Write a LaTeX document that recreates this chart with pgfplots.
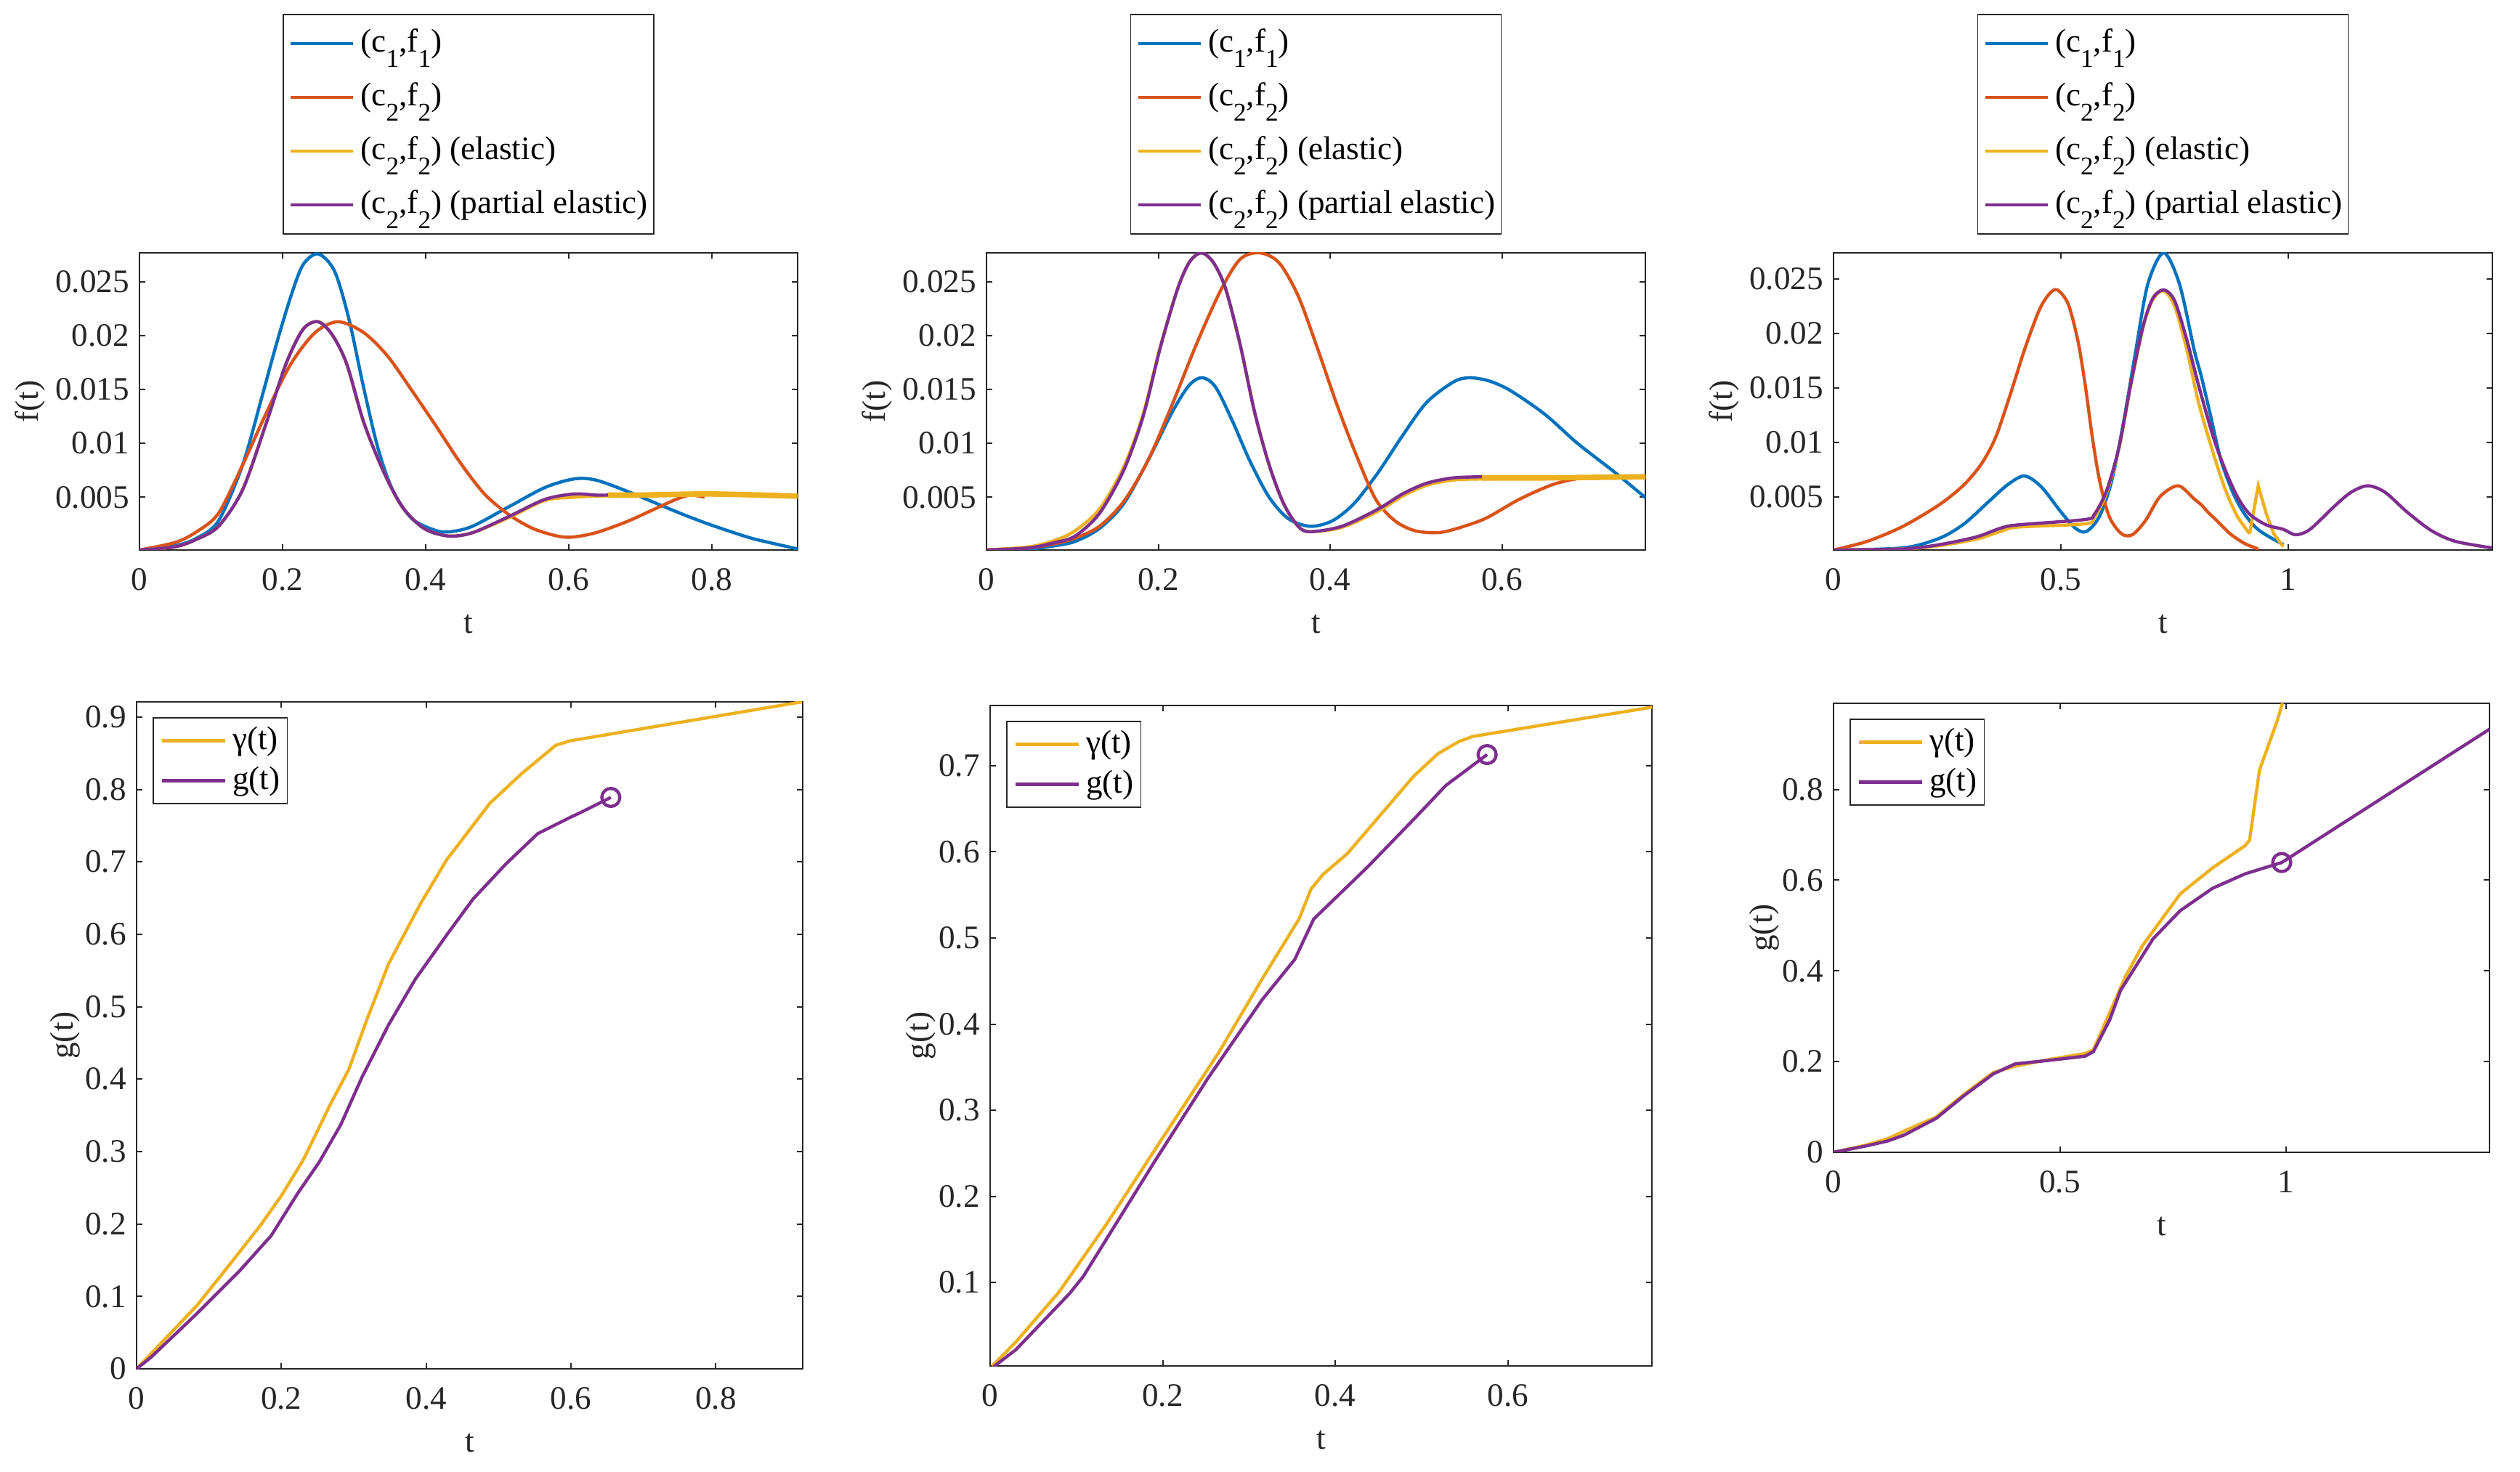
\documentclass[border=0pt]{standalone}
\usepackage{fontspec}
\setmainfont{Liberation Serif}
\usepackage{pgfplots}
\pgfplotsset{compat=1.18}
\definecolor{mblue}{rgb}{0,0.447,0.741}
\definecolor{morange}{rgb}{0.85,0.325,0.098}
\definecolor{myellow}{rgb}{0.929,0.694,0.125}
\definecolor{mpurple}{rgb}{0.494,0.184,0.556}
\definecolor{axgray}{rgb}{0.15,0.15,0.15}
\newcommand{\fs}{\fontsize{11.3}{13.5}\selectfont}
\newcommand{\sub}[1]{\raisebox{-5.3pt}{\fontsize{8.8}{9}\selectfont #1}}
\pgfplotsset{
  base/.style={
    scale only axis,
    anchor=south west,
    axis line style={draw=axgray, line width=0.5pt},
    every tick/.style={draw=axgray, line width=0.5pt},
    tick align=inside,
    major tick length=2pt,
    tick label style={font=\fs, text=axgray},
    label style={font=\fs, text=axgray},
    /pgf/number format/assume math mode=true,
    /pgf/number format/fixed,
    /pgf/number format/precision=3,
    scaled ticks=false,
    xlabel={t},
    xlabel style={at={(axis description cs:0.5,0)}, anchor=center, yshift=-25.5pt},
    xticklabel style={yshift=-2.8pt},
    every axis plot/.append style={line width=1.1pt},
  },
  top/.style={
    base, height=102.25pt, ymin=0.0001,
    ytick={0.005,0.01,0.015,0.02,0.025},
    ylabel={f(t)},
    ylabel style={at={(axis description cs:-0.166,0.5)}, anchor=center},
    legend style={at={(0.5,1)}, anchor=south, yshift=6.25pt, draw=axgray, fill=white,
      font=\fs, text=black, inner xsep=2pt, inner ysep=0.75pt, row sep=0pt,
      nodes={inner xsep=0pt, inner ysep=0pt, text height=12pt, text depth=6.5pt},
      /tikz/every odd column/.append style={column sep=2pt}},
    legend cell align=left,
    legend image code/.code={\draw[##1,line width=1.1pt] (0pt,0pt) -- (21.5pt,0pt);},
  },
  bot/.style={
    base, ymin=0,
    ylabel={g(t)},
    legend style={at={(0,1)}, anchor=north west, xshift=5.5pt, yshift=-5.25pt, draw=axgray, fill=white,
      font=\fs, text=black, inner xsep=2.5pt, inner ysep=1.1pt, row sep=0pt,
      nodes={inner xsep=0pt, inner ysep=0pt, text height=9.9pt, text depth=3.8pt},
      /tikz/every odd column/.append style={column sep=2pt}},
    legend cell align=left,
    legend image code/.code={\draw[##1,line width=1.1pt] (0pt,0pt) -- (21.75pt,0pt);},
  },
}
\newcommand{\leg}{\addlegendentry{(c\sub{1},f\sub{1})}
  \addlegendentry{(c\sub{2},f\sub{2})}
  \addlegendentry{(c\sub{2},f\sub{2}) (elastic)}
  \addlegendentry{(c\sub{2},f\sub{2}) (partial elastic)}}
\begin{document}
\begin{tikzpicture}
\useasboundingbox (0,0) rectangle (867.25pt,506.25pt);
% ---------------- top left
\begin{axis}[top, at={(48pt,317pt)}, width=226.5pt, xmin=0, xmax=0.92, ymax=0.0277,
  xtick={0,0.2,0.4,0.6,0.8}]
\addplot[mblue, smooth, tension=0.5] coordinates {(0,0.0001)(0.05,0.0005)(0.08,0.0012)(0.1104,0.0028)(0.1442,0.0080)(0.1711,0.0143)(0.1913,0.0192)(0.2118,0.0237)(0.2287,0.0266)(0.2497,0.0276)(0.2727,0.0260)(0.2930,0.0215)(0.3133,0.0152)(0.3336,0.0095)(0.3538,0.0057)(0.3809,0.0030)(0.4147,0.0019)(0.4349,0.0018)(0.4653,0.0023)(0.516,0.0041)(0.5667,0.0059)(0.6073,0.0067)(0.6377,0.0066)(0.68,0.0056)(0.72,0.0045)(0.76,0.0034)(0.8,0.0024)(0.85,0.0013)(0.88,0.0008)(0.92,0.0002)};
\addplot[morange, smooth, tension=0.5] coordinates {(0,0.0001)(0.05,0.0008)(0.08,0.0018)(0.1104,0.0035)(0.1442,0.0080)(0.1778,0.0129)(0.2118,0.0174)(0.2456,0.0203)(0.2777,0.0213)(0.3133,0.0203)(0.347,0.0181)(0.3809,0.0149)(0.4147,0.0116)(0.4485,0.0082)(0.4823,0.0053)(0.516,0.0034)(0.5498,0.0021)(0.5836,0.0014)(0.6056,0.0013)(0.6377,0.0017)(0.68,0.0027)(0.72,0.0039)(0.75,0.0048)(0.77,0.0052)(0.79,0.0050)};
\addplot[myellow, smooth, tension=0.5] coordinates {(0,0.0001)(0.05,0.0004)(0.08,0.0011)(0.1104,0.0023)(0.1442,0.0057)(0.1778,0.0120)(0.2049,0.0174)(0.2287,0.0206)(0.2497,0.0213)(0.2693,0.0201)(0.2896,0.0174)(0.3133,0.0120)(0.3404,0.0075)(0.3674,0.0041)(0.3978,0.0021)(0.4316,0.0014)(0.4653,0.0017)(0.516,0.0031)(0.5667,0.0047)(0.6073,0.0050)(0.6377,0.0051)(0.7,0.0052)(0.8,0.0053)(0.92,0.0051)};
\addplot[mpurple, smooth, tension=0.5] coordinates {(0,0.0001)(0.05,0.0004)(0.08,0.0011)(0.1104,0.0023)(0.1442,0.0057)(0.1778,0.0120)(0.2049,0.0174)(0.2287,0.0206)(0.2497,0.0213)(0.2693,0.0201)(0.2896,0.0174)(0.3133,0.0120)(0.3404,0.0075)(0.3674,0.0041)(0.3978,0.0021)(0.4316,0.0014)(0.4653,0.0017)(0.516,0.0032)(0.5667,0.0048)(0.6073,0.0053)(0.6377,0.0052)(0.655,0.0052)};
\addplot[myellow, line width=1.9pt, smooth, forget plot] coordinates {(0.655,0.0052)(0.7,0.0052)(0.8,0.0053)(0.92,0.0051)};
\leg
\end{axis}
% ---------------- top middle
\begin{axis}[top, at={(339.5pt,317pt)}, width=226.75pt, xmin=0, xmax=0.767, ymax=0.0277,
  xtick={0,0.2,0.4,0.6}]
\addplot[mblue, smooth, tension=0.5] coordinates {(0,0.0001)(0.05,0.0002)(0.08,0.0005)(0.1033,0.0009)(0.1315,0.0021)(0.1597,0.0044)(0.1879,0.0084)(0.2161,0.0129)(0.2359,0.0154)(0.2514,0.0161)(0.2669,0.0152)(0.2867,0.0120)(0.3064,0.0084)(0.329,0.0050)(0.3515,0.0030)(0.3769,0.0023)(0.4023,0.0028)(0.4277,0.0044)(0.4559,0.0073)(0.4841,0.0107)(0.5123,0.0138)(0.5434,0.0157)(0.562,0.0161)(0.585,0.0158)(0.61,0.0149)(0.65,0.0127)(0.688,0.0100)(0.73,0.0074)(0.768,0.0049)};
\addplot[morange, smooth, tension=0.5] coordinates {(0,0.0001)(0.05,0.0003)(0.08,0.0007)(0.1033,0.0012)(0.1315,0.0023)(0.1597,0.0046)(0.1879,0.0084)(0.2161,0.0136)(0.2443,0.0192)(0.2725,0.0242)(0.2952,0.0271)(0.3177,0.0277)(0.3403,0.0268)(0.3628,0.0237)(0.3854,0.0188)(0.4079,0.0136)(0.4305,0.0089)(0.4531,0.0048)(0.4756,0.0028)(0.4982,0.0019)(0.5236,0.0017)(0.5434,0.0020)(0.58,0.0030)(0.62,0.0048)(0.66,0.0062)(0.694,0.0068)(0.73,0.0069)(0.767,0.0069)};
\addplot[myellow, smooth, tension=0.5] coordinates {(0,0.0001)(0.05,0.0004)(0.08,0.0010)(0.1033,0.0019)(0.1315,0.0039)(0.1597,0.0078)(0.1823,0.0127)(0.2020,0.0189)(0.2218,0.0242)(0.2359,0.0268)(0.25,0.0277)(0.2641,0.0268)(0.2782,0.0244)(0.2952,0.0192)(0.3121,0.0129)(0.329,0.0080)(0.3459,0.0044)(0.3628,0.0023)(0.3769,0.0018)(0.4136,0.0022)(0.4559,0.0037)(0.4841,0.0051)(0.5123,0.0061)(0.5434,0.0066)(0.577,0.0067)(0.65,0.0068)(0.767,0.0069)};
\addplot[mpurple, smooth, tension=0.5] coordinates {(0,0.0001)(0.05,0.0003)(0.08,0.0008)(0.1033,0.0014)(0.1315,0.0035)(0.1597,0.0075)(0.1823,0.0125)(0.2020,0.0188)(0.2218,0.0242)(0.2359,0.0268)(0.25,0.0277)(0.2641,0.0268)(0.2782,0.0244)(0.2952,0.0192)(0.3121,0.0129)(0.329,0.0080)(0.3459,0.0044)(0.3628,0.0023)(0.3769,0.0018)(0.4136,0.0023)(0.4559,0.0039)(0.4841,0.0053)(0.5123,0.0063)(0.5434,0.0068)(0.577,0.0069)};
\addplot[myellow, line width=1.9pt, smooth, forget plot] coordinates {(0.577,0.0068)(0.65,0.0068)(0.767,0.0069)};
\leg
\end{axis}
% ---------------- top right
\begin{axis}[top, at={(631pt,317pt)}, width=226.75pt, xmin=0, xmax=1.449, ymax=0.0274,
  xtick={0,0.5,1}]
\addplot[mblue, smooth, tension=0.5] coordinates {(0,0.0001)(0.154,0.0003)(0.234,0.0012)(0.287,0.0025)(0.34,0.0045)(0.383,0.0061)(0.42,0.0069)(0.457,0.0059)(0.5,0.0036)(0.532,0.0021)(0.556,0.0018)(0.585,0.0032)(0.612,0.0065)(0.638,0.0119)(0.665,0.0185)(0.691,0.0245)(0.726,0.0274)(0.761,0.0245)(0.793,0.0185)(0.8085,0.0161)(0.83,0.0123)(0.851,0.0085)(0.878,0.0054)(0.904,0.0034)(0.936,0.0019)(0.989,0.0006)};
\addplot[morange, smooth, tension=0.5] coordinates {(0,0.0001)(0.0745,0.0009)(0.154,0.0023)(0.234,0.0043)(0.287,0.0061)(0.325,0.0080)(0.356,0.0104)(0.388,0.0143)(0.42,0.0185)(0.452,0.0221)(0.474,0.0236)(0.492,0.0240)(0.516,0.0227)(0.537,0.0194)(0.553,0.0154)(0.569,0.0105)(0.585,0.0065)(0.606,0.0032)(0.633,0.0016)(0.657,0.0015)(0.686,0.0028)(0.718,0.0050)(0.758,0.0060)(0.793,0.0048)(0.81,0.0042)(0.825,0.0035)(0.8405,0.0029)(0.872,0.0016)(0.904,0.0007)(0.934,0.0002)};
\addplot[myellow, smooth, tension=0.5] coordinates {(0,0.0001)(0.154,0.0002)(0.234,0.0005)(0.314,0.0011)(0.367,0.0018)(0.404,0.0022)(0.553,0.0025)(0.574,0.0031)(0.601,0.0054)(0.628,0.0095)(0.654,0.0153)(0.681,0.0206)(0.702,0.0231)(0.726,0.0239)(0.75,0.0225)(0.777,0.0185)(0.803,0.0136)(0.835,0.0090)(0.862,0.0056)(0.888,0.0032)(0.915,0.0016)};
\addplot[myellow, forget plot] coordinates {(0.915,0.0016)(0.934,0.0060)(0.952,0.0034)(0.968,0.0016)(0.989,0.0004)};
\addplot[mpurple, smooth, tension=0.5] coordinates {(0,0.0001)(0.154,0.0002)(0.234,0.0006)(0.314,0.0013)(0.367,0.0021)(0.404,0.0024)(0.553,0.0029)(0.574,0.0034)(0.601,0.0056)(0.628,0.0096)(0.654,0.0154)(0.681,0.0207)(0.702,0.0232)(0.726,0.0240)(0.75,0.0230)(0.777,0.0194)(0.803,0.0152)(0.835,0.0105)(0.862,0.0074)(0.888,0.0050)(0.915,0.0034)(0.952,0.0024)(0.989,0.0020)(1.016,0.0015)(1.048,0.0020)(1.101,0.0041)(1.138,0.0054)(1.175,0.0060)(1.213,0.0054)(1.261,0.0036)(1.314,0.0019)(1.367,0.0009)(1.447,0.0003)};
\leg
\end{axis}
% ---------------- bottom left
\begin{axis}[bot, at={(47pt,35.25pt)}, width=229.25pt, height=229.5pt, xmin=0, xmax=0.92, ymax=0.921,
  xtick={0,0.2,0.4,0.6,0.8}, ytick={0,0.1,0.2,0.3,0.4,0.5,0.6,0.7,0.8,0.9},
  ylabel style={at={(axis description cs:-0.107,0.5)}, anchor=center}]
\addplot[myellow] coordinates {(0,0)(0.04,0.042)(0.083,0.087)(0.127,0.142)(0.171,0.198)(0.2,0.239)(0.23,0.288)(0.252,0.333)(0.267,0.364)(0.293,0.413)(0.318,0.482)(0.348,0.559)(0.392,0.642)(0.429,0.704)(0.443,0.722)(0.488,0.781)(0.532,0.822)(0.579,0.861)(0.598,0.867)(0.919,0.921)};
\addplot[mpurple] coordinates {(0,0)(0.02,0.016)(0.083,0.076)(0.142,0.135)(0.186,0.184)(0.223,0.243)(0.252,0.285)(0.282,0.337)(0.311,0.402)(0.348,0.475)(0.385,0.538)(0.429,0.600)(0.465,0.649)(0.51,0.697)(0.554,0.739)(0.598,0.761)(0.613,0.768)(0.655,0.789)};
\addplot[mpurple, only marks, mark=o, mark size=3.1pt, forget plot] coordinates {(0.655,0.789)};
\addlegendentry{γ(t)}
\addlegendentry{g(t)}
\end{axis}
% ---------------- bottom middle
\begin{axis}[bot, at={(340.75pt,36.25pt)}, width=227.75pt, height=227.25pt, xmin=0, xmax=0.767, ymin=0.003, ymax=0.770,
  xtick={0,0.2,0.4,0.6}, ytick={0.1,0.2,0.3,0.4,0.5,0.6,0.7},
  ylabel style={at={(axis description cs:-0.105,0.5)}, anchor=center}]
\addplot[myellow] coordinates {(0.0025,0.003)(0.03,0.031)(0.08,0.089)(0.135,0.168)(0.2,0.268)(0.265,0.367)(0.315,0.452)(0.358,0.522)(0.372,0.557)(0.386,0.574)(0.414,0.598)(0.491,0.688)(0.519,0.714)(0.543,0.728)(0.559,0.734)(0.767,0.768)};
\addplot[mpurple] coordinates {(0.004,0.002)(0.03,0.022)(0.092,0.087)(0.108,0.107)(0.191,0.241)(0.253,0.338)(0.315,0.428)(0.353,0.475)(0.375,0.522)(0.438,0.583)(0.494,0.641)(0.528,0.677)(0.576,0.713)};
\addplot[mpurple, only marks, mark=o, mark size=3.1pt, forget plot] coordinates {(0.576,0.713)};
\addlegendentry{γ(t)}
\addlegendentry{g(t)}
\end{axis}
% ---------------- bottom right
\begin{axis}[bot, at={(631pt,109.75pt)}, width=225.75pt, height=154.5pt, xmin=0, xmax=1.449, ymax=0.99,
  xtick={0,0.5,1}, ytick={0,0.2,0.4,0.6,0.8},
  ylabel style={at={(axis description cs:-0.106,0.5)}, anchor=center}]
\addplot[myellow] coordinates {(0,0)(0.072,0.016)(0.12,0.03)(0.156,0.047)(0.227,0.078)(0.287,0.127)(0.353,0.176)(0.401,0.19)(0.478,0.205)(0.556,0.218)(0.574,0.226)(0.61,0.308)(0.646,0.39)(0.682,0.455)(0.766,0.57)(0.837,0.627)(0.909,0.676)(0.919,0.688)(0.941,0.843)(0.981,0.954)(1.0,1.02)};
\addplot[mpurple] coordinates {(0,0)(0.072,0.014)(0.12,0.025)(0.156,0.038)(0.227,0.075)(0.287,0.124)(0.353,0.173)(0.401,0.195)(0.478,0.203)(0.556,0.212)(0.574,0.222)(0.61,0.292)(0.634,0.357)(0.67,0.414)(0.706,0.471)(0.766,0.533)(0.837,0.582)(0.909,0.614)(0.99,0.639)(1.449,0.933)};
\addplot[mpurple, only marks, mark=o, mark size=3.1pt, forget plot] coordinates {(0.99,0.639)};
\addlegendentry{γ(t)}
\addlegendentry{g(t)}
\end{axis}
\end{tikzpicture}
\end{document}
